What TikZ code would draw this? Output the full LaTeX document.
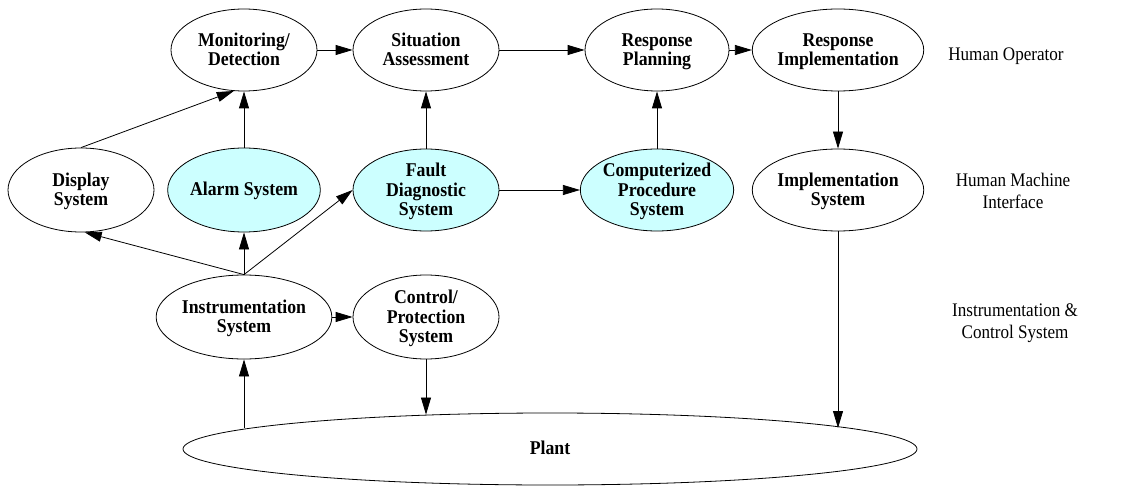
\documentclass[tikz,border=0pt]{standalone}
\usepackage{fontspec}
\usepackage{graphicx}
\setmainfont{Liberation Serif}
\usetikzlibrary{shapes.geometric,arrows.meta,calc}
\definecolor{hmifill}{HTML}{CCFFFF}
\newcommand\mytxt[1]{\raisebox{-2pt}[\height][\depth]{\scalebox{0.91}[1]{\begin{tabular}{@{}c@{}}#1\end{tabular}}}}
\newcommand\mylab[1]{\scalebox{0.89}[1]{\begin{tabular}{@{}c@{}}#1\end{tabular}}}
\tikzset{
  ell/.style args={#1/#2}{draw, ellipse, line width=0.8pt, inner sep=0pt,
    minimum width=#1pt, minimum height=#2pt, align=center,
    font=\fontsize{19.5}{19}\selectfont\bfseries},
  hmi/.style={fill=hmifill},
  arr/.style={line width=0.8pt, -{Triangle[length=17pt,width=10pt]}},
  layer/.style={inner sep=0pt, font=\fontsize{19.2}{22}\selectfont}
}
\begin{document}
\begin{tikzpicture}[x=1pt,y=-1pt]
\useasboundingbox (0,0) rectangle (1123,486);
% Human operator row
\node[ell=146/82] (mon) at (244,50) {\mytxt{Monitoring/\\Detection}};
\node[ell=146/82] (sit) at (426,50) {\mytxt{Situation\\Assessment}};
\node[ell=144/82] (rp) at (657,50) {\mytxt{Response\\Planning}};
\node[ell=158/82] (ri) at (838,50) {\mytxt{Response\\Implementation}};
% HMI row
\node[ell=146/84] (disp) at (81,190) {\mytxt{Display\\System}};
\node[ell=144/84,hmi] (alarm) at (244,190) {\mytxt{Alarm System}};
\node[ell=146/82,hmi] (fault) at (426,190) {\mytxt{Fault\\Diagnostic\\System}};
\node[ell=145/82,hmi] (comp) at (657,190) {\mytxt{Computerized\\Procedure\\System}};
\node[ell=158/82] (impl) at (838,190) {\mytxt{Implementation\\System}};
% I&C row
\node[ell=162/84] (instr) at (244,317) {\mytxt{Instrumentation\\System}};
\node[ell=146/84] (ctrl) at (426,317) {\mytxt{Control/\\Protection\\System}};
% Plant
\node[ell=734/72] (plant) at (550,449) {\mytxt{Plant}};
% layer labels
\node[layer] (lho) at (1006,56) {\mylab{Human Operator}};
\node[layer] (lhmi) at (1013,193) {\mylab{Human Machine\\Interface}};
\node[layer] (lic) at (1015,323) {\mylab{Instrumentation \&\\Control System}};
% connectors
\draw[arr] (mon) -- (sit);
\draw[arr] (sit) -- (rp);
\draw[arr] (rp) -- (ri);
\draw[arr] (alarm) -- (mon);
\draw[arr] (fault) -- (sit);
\draw[arr] (comp) -- (rp);
\draw[arr] (ri) -- (impl);
\draw[arr] (fault) -- (comp);
\draw[arr] (disp.north) -- (mon.256);
\draw[arr] (instr.north) -- (disp.275);
\draw[arr] (instr.north) -- (alarm);
\draw[arr] (instr.north) -- (fault.west);
\draw[arr] (instr) -- (ctrl);
\draw[arr] (ctrl.south) -- (ctrl.south |- plant.164.7);
\draw[arr] (impl.south) -- (impl.south |- plant.4.4);
\draw[arr] (instr.south |- plant.176.3) -- (instr.south);
\end{tikzpicture}
\end{document}
